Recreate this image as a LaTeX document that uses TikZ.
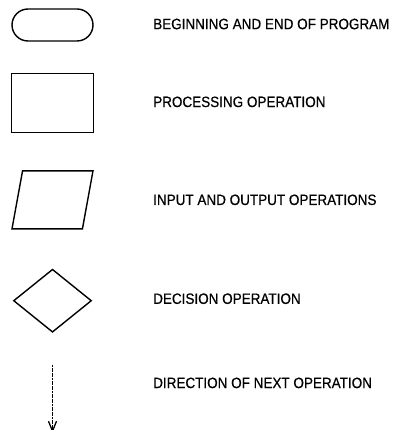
\documentclass[tikz,border=0pt]{standalone}
\usepackage{fontspec}
\setmainfont{Liberation Sans}[FakeStretch=0.9, FakeBold=0.6]
\usetikzlibrary{positioning, arrows.meta, shapes.geometric, shapes.misc}

\begin{document}
\begin{tikzpicture}[
        x=1pt, y=1pt,
        node distance=31pt,
        shapebox/.style={draw, line width=1.4pt, inner sep=1pt},
        legendtext/.style={anchor=west, inner sep=0pt, font=\fontsize{15}{18}\selectfont},
        >={Straight Barb[length=10pt, width=8pt]}
    ]

    \useasboundingbox (0,0) rectangle (404,-430);
    \coordinate (textcol) at (153,0);

    % symbols
    \node[shapebox, rounded rectangle, minimum width=83pt, minimum height=32pt] (term) at (52.5,-25) {};
    \node[shapebox, rectangle, minimum width=82pt, minimum height=59pt, below=31pt of term] (proc) {};
    \node[shapebox, trapezium, trapezium left angle=80, trapezium right angle=100,
          trapezium stretches=true, minimum width=81pt, minimum height=58pt, below=37pt of proc] (inout) {};
    \node[shapebox, diamond, minimum width=78pt, minimum height=63pt, below=39pt of inout] (decide) {};
    \coordinate[below=32pt of decide] (arrowtop);
    \coordinate[below=68pt of arrowtop] (arrowend);
    \draw[->, line width=1.3pt, dash pattern=on 2pt off 0.6pt] (arrowtop) -- (arrowend);

    % labels
    \node[legendtext] (termtext) at ([yshift=1pt]term -| textcol) {BEGINNING AND END OF PROGRAM};
    \node[legendtext] (proctext) at ([yshift=1pt]proc -| textcol) {PROCESSING OPERATION};
    \node[legendtext] (inouttext) at (inout -| textcol) {INPUT AND OUTPUT OPERATIONS};
    \node[legendtext] (decidetext) at ([yshift=2pt]decide -| textcol) {DECISION OPERATION};
    \node[legendtext] (arrowtext) at ([yshift=-18pt]arrowtop -| textcol) {DIRECTION OF NEXT OPERATION};

    \end{tikzpicture}
\end{document}
